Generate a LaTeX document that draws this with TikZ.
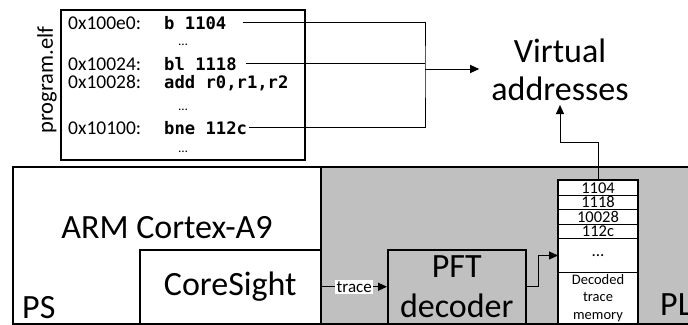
\documentclass[tikz,border=0pt]{standalone}
\usepackage{fontspec}
\setmainfont{Carlito}
\newfontfamily\codefont{DejaVu Sans Mono}
\usetikzlibrary{arrows.meta,positioning,calc}
\definecolor{plgray}{RGB}{192,192,192}

\begin{document}
\begin{tikzpicture}[x=1pt, y=-1pt,
  blk/.style={draw, line width=1.5pt, inner sep=0pt, anchor=north west},
  big/.style={font=\fontsize{34}{38}\selectfont},
  addr/.style={font=\fontsize{19.5}{20}\selectfont, anchor=base west, inner sep=0pt},
  instr/.style={font=\codefont\bfseries\fontsize{17.2}{20}\selectfont, anchor=base west, inner sep=0pt},
  gap/.style={font=\fontsize{13}{13}\selectfont, inner sep=0pt},
  cell/.style={draw, line width=1pt, minimum width=79pt, inner sep=0pt, anchor=north west,
               fill=white, font=\fontsize{16.5}{16.5}\selectfont},
  arr/.style={-{Triangle[length=9pt,width=8pt]}, line width=1pt}]

\useasboundingbox (0,0) rectangle (688,324);

% program image
\node[blk, minimum width=244pt, minimum height=150pt] (elf) at (60,9) {};
\node[rotate=90, font=\fontsize{22.5}{22}\selectfont] (elfname) at (47,80) {program.elf};
\node[addr] (a1) at (68,29)  {0x100e0:};
\node[addr] (a2) at (68,70)  {0x10024:};
\node[addr] (a3) at (68,88)  {0x10028:};
\node[addr] (a4) at (68,134) {0x10100:};
\node[instr] (i1) at (164,29)  {b 1104};
\node[instr] (i2) at (164,70)  {bl 1118};
\node[instr] (i3) at (164,88)  {add r0,r1,r2};
\node[instr] (i4) at (164,134) {bne 112c};
\node[gap] (g1) at (183,45)  {…};
\node[gap] (g2) at (183,110) {…};
\node[gap] (g3) at (183,152) {…};

\node[big, align=center, inner sep=0pt, anchor=south] (va) at (560,101) {Virtual\\addresses};

% PS / PL
\node[blk, minimum width=308pt, minimum height=157pt] (ps) at (12,166) {};
\node[blk, fill=plgray, minimum width=372pt, minimum height=157pt] (pl) at (320,166) {};
\node[big] (arm) at (167,228) {ARM Cortex-A9};
\node[blk, fill=white, minimum width=181pt, minimum height=74pt, big] (cs) at (139,249) {CoreSight};
\node[big, anchor=base west, inner sep=0pt] (pslabel) at (22,318) {PS};
\node[big, anchor=base west, inner sep=0pt] (pllabel) at (660,315) {PL};
\node[blk, fill=plgray, minimum width=138pt, minimum height=74pt, align=center,
      font=\fontsize{34}{40}\selectfont] (pft) at (387,249) {PFT\\decoder};

% trace memory
\foreach \v [count=\i] in {1104,1118,10028,112c}
  \node[cell, minimum height=14.5pt, text height=11pt, text depth=0pt] (m\i) at (558,{180+14.5*(\i-1)}) {\v};
\node[cell, minimum height=34pt, font=\fontsize{17}{17}\selectfont] (mdots) at (558,238) {...};
\node[cell, minimum height=51pt, align=center, font=\fontsize{14.5}{17.5}\selectfont] (mdec) at (558,272)
  {Decoded\\trace\\memory};
\draw[line width=1.5pt] (m1.north west) rectangle (mdec.south east);

% connectors
\draw[line width=1pt] ([xshift=16pt]i1.east) -| (425,69) coordinate (bus) |- ([xshift=2pt]i4.east);
\draw[line width=1pt] ([xshift=9pt]i2.east) -- (i2.east -| bus);
\draw[arr] (bus) -- ([xshift=-12pt]va.west |- bus);
\draw[arr] (cs.east) -- (pft.west) node[midway, fill=white, inner sep=1.5pt, font=\fontsize{17}{17}\selectfont] {trace};
\draw[arr] (pft.east) -- ++(12,0) |- (mdots.west);
\draw[arr] (m1.north) -- ++(0,-38) -| ([yshift=-4pt]va.south);
\end{tikzpicture}
\end{document}
